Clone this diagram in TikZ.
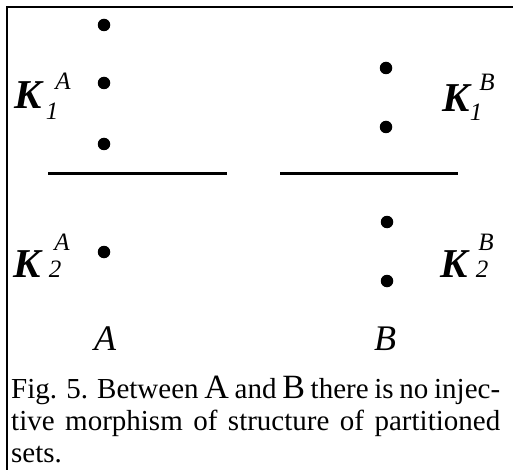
\documentclass[tikz,border=0pt]{standalone}
\usepackage{fontspec}
\setmainfont{Liberation Serif}

\begin{document}
\begin{tikzpicture}[
  x=1pt, y=-1pt,
  dot/.style={circle, fill=black, inner sep=0pt, minimum size=12.5pt},
  kbig/.style={font=\fontsize{41}{41}\selectfont\bfseries\itshape, inner sep=0pt, anchor=base},
  kidx/.style={font=\fontsize{25}{25}\selectfont\itshape, inner sep=0pt, anchor=base},
  setname/.style={font=\fontsize{36}{36}\selectfont\itshape, inner sep=0pt, anchor=base},
  sepline/.style={line width=3pt},
  frame/.style={line width=2.5pt},
  caption/.style={font=\fontsize{29}{32}\selectfont, text width=489pt,
                  align=justify, inner sep=0pt, anchor=north west}
]
\useasboundingbox (0,0) rectangle (513,470);
% --- frame ---
\coordinate (fbl) at (6.8,470);
\coordinate (ftr) at (513,6.8);
\draw[frame] (fbl) |- (ftr);
% --- set A ---
\node[dot] (a1) at (104,25) {};
\node[dot] (a2) at (104,83) {};
\node[dot] (a3) at (104,144) {};
\node[dot] (a4) at (104,252) {};
\node[kbig] (k1a) at (28,109) {K};
\node[kidx] (k1asup) at (63,90) {A};
\node[kidx] (k1asub) at (52,120) {1};
\node[kbig] (k2a) at (27,277) {K};
\node[kidx] (k2asup) at (62,250) {A};
\node[kidx] (k2asub) at (55,277) {2};
\coordinate (sepal) at (48,174);
\coordinate (separ) at (227,174);
\draw[sepline] (sepal) -- (separ);
\node[setname] (seta) at (105,350) {A};
% --- set B ---
\node[dot] (b1) at (386,68) {};
\node[dot] (b2) at (386,127) {};
\node[dot] (b3) at (387,222) {};
\node[dot] (b4) at (387,281) {};
\node[kbig] (k1b) at (456,112) {K};
\node[kidx] (k1bsup) at (487,91) {B};
\node[kidx] (k1bsub) at (476,121) {1};
\node[kbig] (k2b) at (454,277) {K};
\node[kidx] (k2bsup) at (486,250) {B};
\node[kidx] (k2bsub) at (482,277) {2};
\coordinate (sepbl) at (280,174);
\coordinate (sepbr) at (458,174);
\draw[sepline] (sepbl) -- (sepbr);
\node[setname] (setb) at (385,350) {B};
% --- caption ---
\node[caption] (cap) at (11,376) {Fig. 5. Between {\fontsize{34}{34}\selectfont A} and
  {\fontsize{34}{34}\selectfont B} there is no injec-\linebreak tive morphism of
  structure of partitioned\linebreak sets.};
\end{tikzpicture}
\end{document}
